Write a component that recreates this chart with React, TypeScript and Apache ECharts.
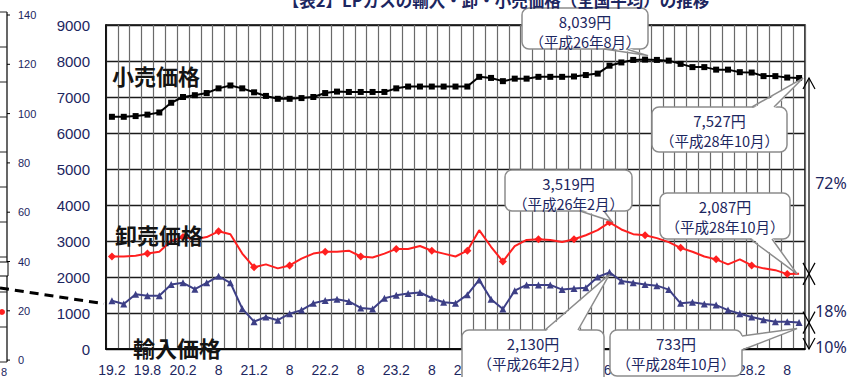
import React, { useEffect, useRef } from "react";
import * as echarts from "echarts";

// Bimonthly categories, H19.2 (Feb 2007) .. H28.10 (Oct 2016)
const categories = [
  "H19.2", "H19.4", "H19.6", "H19.8", "H19.10", "H19.12",
  "H20.2", "H20.4", "H20.6", "H20.8", "H20.10", "H20.12",
  "H21.2", "H21.4", "H21.6", "H21.8", "H21.10", "H21.12",
  "H22.2", "H22.4", "H22.6", "H22.8", "H22.10", "H22.12",
  "H23.2", "H23.4", "H23.6", "H23.8", "H23.10", "H23.12",
  "H24.2", "H24.4", "H24.6", "H24.8", "H24.10", "H24.12",
  "H25.2", "H25.4", "H25.6", "H25.8", "H25.10", "H25.12",
  "H26.2", "H26.4", "H26.6", "H26.8", "H26.10", "H26.12",
  "H27.2", "H27.4", "H27.6", "H27.8", "H27.10", "H27.12",
  "H28.2", "H28.4", "H28.6", "H28.8", "H28.10",
];

// Tick labels shown every 3rd category (every 6 months)
const xTickLabels = [
  "19.2", "19.8", "20.2", "8", "21.2", "8", "22.2", "8", "23.2", "8",
  "24.2", "8", "25.2", "8", "26.2", "8", "27.2", "8", "28.2", "8",
];

const yTicks = [0, 1000, 2000, 3000, 4000, 5000, 6000, 7000, 8000, 9000];
const leftAxisTicks = ["140", "120", "100", "80", "60", "40", "20", "0"];

// 小売価格 (retail)
const retail = [
  6450, 6450, 6470, 6510, 6570, 6840, 7000, 7050, 7110, 7240,
  7320, 7240, 7130, 7030, 6950, 6950, 6970, 7000, 7110, 7150,
  7140, 7140, 7140, 7140, 7240, 7290, 7290, 7290, 7290, 7290,
  7290, 7560, 7530, 7440, 7510, 7510, 7560, 7560, 7560, 7570,
  7610, 7650, 7870, 7960, 8030, 8039, 8030, 8010, 7920, 7830,
  7830, 7760, 7760, 7690, 7680, 7580, 7580, 7540, 7527,
];

// 卸売価格 (wholesale)
const wholesale = [
  2570, 2570, 2590, 2650, 2700, 3000, 3110, 3050, 3110, 3270,
  3190, 2650, 2270, 2350, 2240, 2320, 2510, 2650, 2700, 2700,
  2730, 2570, 2540, 2650, 2780, 2780, 2860, 2730, 2650, 2570,
  2730, 3300, 2840, 2430, 2860, 3030, 3050, 3030, 2970, 3050,
  3160, 3300, 3519, 3320, 3190, 3160, 3080, 2970, 2810, 2700,
  2570, 2490, 2350, 2490, 2320, 2240, 2190, 2080, 2087,
];

// 輸入価格 (import)
const importPrice = [
  1340, 1250, 1520, 1480, 1480, 1790, 1840, 1660, 1840, 2020,
  1840, 1120, 760, 890, 800, 980, 1080, 1270, 1350, 1380,
  1320, 1140, 1110, 1410, 1490, 1540, 1570, 1410, 1300, 1270,
  1510, 1920, 1380, 1110, 1620, 1780, 1780, 1780, 1650, 1680,
  1700, 2000, 2130, 1890, 1840, 1790, 1760, 1650, 1270, 1300,
  1250, 1220, 1080, 980, 890, 810, 760, 760, 733,
];

const seriesNames = ["小売価格", "卸売価格", "輸入価格"];
const shareLabels = ["72%", "18%", "10%"];
const titleText = "【表2】LPガスの輸入・卸・小売価格（全国平均）の推移";

const JP = "'Noto Sans CJK JP', 'Noto Sans', sans-serif";
const NAVY = "#1c2660";
const ARIAL = "'Liberation Sans', Arial, sans-serif";

export default function App() {
  const ref = useRef<HTMLDivElement>(null);

  useEffect(() => {
    const el = ref.current!;
    const chart = echarts.init(el, undefined, { renderer: "svg", width: 858, height: 377 });

    chart.setOption({
      animation: false,
      backgroundColor: "#ffffff",
      grid: {
        left: 106, right: 53, top: 25, bottom: 19,
        show: true, borderColor: "#000", borderWidth: 1.5,
        backgroundColor: "transparent",
      },
      xAxis: [
        {
          type: "category",
          data: categories,
          boundaryGap: true,
          axisLine: { show: true, lineStyle: { color: "#000", width: 1.5 } },
          axisTick: { show: false },
          splitLine: { show: false },
          axisLabel: {
            interval: 2,
            margin: 14,
            color: NAVY,
            fontSize: 14,
            fontFamily: ARIAL,
            formatter: (_v: string, idx: number) => xTickLabels[Math.round(idx / 3)] ?? "",
          },
        },
        {
          // helper axis: one vertical grid line at every category boundary
          type: "value",
          position: "bottom",
          min: 0,
          max: categories.length,
          interval: 1,
          axisLine: { show: false },
          axisTick: { show: false },
          axisLabel: { show: false },
          splitLine: { show: true, lineStyle: { color: "#6a6a6a", width: 1.2 } },
        },
      ],
      yAxis: {
        type: "value",
        min: yTicks[0],
        max: yTicks[yTicks.length - 1],
        interval: 1000,
        axisLine: { show: true, lineStyle: { color: "#000", width: 1.5 } },
        axisTick: { show: false },
        splitLine: { show: true, lineStyle: { color: "#1a1a1a", width: 1.3 } },
        axisLabel: {
          margin: 16,
          color: NAVY,
          fontSize: 15,
          fontFamily: ARIAL,
          formatter: (v: number) => String(v),
        },
      },
      series: [
        {
          name: seriesNames[0], type: "line", data: retail, xAxisIndex: 0,
          symbol: "rect", symbolSize: 6, showSymbol: true,
          lineStyle: { color: "#000", width: 2 },
          itemStyle: { color: "#000" },
          z: 5,
        },
        {
          name: seriesNames[1], type: "line", data: wholesale, xAxisIndex: 0,
          symbol: "diamond", symbolSize: 8,
          lineStyle: { color: "#ff1f1f", width: 2 },
          itemStyle: { color: "#ff1f1f" },
          z: 5,
        },
        {
          name: seriesNames[2], type: "line", data: importPrice, xAxisIndex: 0,
          symbol: "triangle", symbolSize: 7,
          lineStyle: { color: "#3d3f86", width: 2 },
          itemStyle: { color: "#3d3f86" },
          z: 5,
        },
      ],
    });

    const P = (s: number[], i: number) =>
      chart.convertToPixel({ xAxisIndex: 0, yAxisIndex: 0 }, [i, s[i]]) as number[];
    const yPx = (v: number) => (chart.convertToPixel({ xAxisIndex: 0, yAxisIndex: 0 }, [0, v]) as number[])[1];

    const last = categories.length - 1;
    const peakIdx = 45; // H26.8
    const febIdx = 42; // H26.2

    type Callout = {
      lines: string[];
      box: [number, number, number, number];
      side: "top" | "bottom" | "right";
      base: [number, number][];
      tip: number[];
    };

    const fmt = (v: number) => v.toLocaleString("en-US") + "円";

    const callouts: Callout[] = [
      { lines: [fmt(retail[peakIdx]), "（平成26年8月）"], box: [522, 8, 126, 41], side: "bottom",
        base: [[604, 49], [626, 49]], tip: [P(retail, peakIdx)[0] + 3, P(retail, peakIdx)[1] - 4] },
      { lines: [fmt(retail[last]), "（平成28年10月）"], box: [652, 107, 135, 45], side: "top",
        base: [[752, 107], [774, 107]], tip: [P(retail, last)[0] + 4, P(retail, last)[1]] },
      { lines: [fmt(wholesale[febIdx]), "（平成26年2月）"], box: [505, 170, 127, 41], side: "bottom",
        base: [[580, 211], [604, 211]], tip: [P(wholesale, febIdx)[0] + 2, P(wholesale, febIdx)[1] - 1] },
      { lines: [fmt(wholesale[last]), "（平成28年10月）"], box: [660, 193, 130, 46], side: "bottom",
        base: [[750, 239], [772, 239]], tip: [P(wholesale, last)[0] - 2, P(wholesale, last)[1]] },
      { lines: [fmt(importPrice[febIdx]), "（平成26年2月）"], box: [462, 330, 142, 56], side: "top",
        base: [[545, 330], [578, 330]], tip: [P(importPrice, febIdx)[0], P(importPrice, febIdx)[1] + 2] },
      { lines: [fmt(importPrice[last]), "（平成28年10月）"], box: [610, 330, 132, 46], side: "right",
        base: [[742, 336], [742, 350]], tip: [P(importPrice, last)[0] - 2, P(importPrice, last)[1] + 6] },
    ];

    const graphics: any[] = [];

    // Title (cut by the top edge)
    graphics.push({
      type: "text", x: 496, y: 0, z: 120,
      style: { text: titleText, fill: NAVY, fontSize: 16.5, fontWeight: "bold", fontFamily: JP,
        textAlign: "center", textVerticalAlign: "middle" },
    });

    // Series name labels
    const nameLabels: [string, number, number][] = [
      [seriesNames[0], 112, 75], [seriesNames[1], 115, 234], [seriesNames[2], 133, 347],
    ];
    nameLabels.forEach(([t, x, y]) =>
      graphics.push({
        type: "text", x, y, z: 110,
        style: { text: t, fill: "#141414", fontSize: 22, fontWeight: "bold", fontFamily: JP,
          textAlign: "left", textVerticalAlign: "middle" },
      })
    );

    // Callouts
    callouts.forEach((c) => {
      const [bx, by, bw, bh] = c.box;
      graphics.push({
        type: "rect", z: 100,
        shape: { x: bx, y: by, width: bw, height: bh, r: 7 },
        style: { fill: "#fff", stroke: "#8c8c8c", lineWidth: 1.5 },
      });
      const inward = (p: [number, number]) =>
        c.side === "top" ? [p[0], p[1] + 2] : c.side === "bottom" ? [p[0], p[1] - 2] : [p[0] - 2, p[1]];
      graphics.push({
        type: "polygon", z: 101,
        shape: { points: [inward(c.base[0]), c.tip, inward(c.base[1])] },
        style: { fill: "#fff", stroke: null },
      });
      graphics.push({
        type: "polyline", z: 102,
        shape: { points: [c.base[0], c.tip, c.base[1]] },
        style: { fill: null, stroke: "#8c8c8c", lineWidth: 1.5 },
      });
      const cx = bx + bw / 2;
      graphics.push({
        type: "text", x: cx, y: by + 13, z: 103,
        style: { text: c.lines[0], fill: NAVY, fontSize: 15, fontFamily: JP,
          textAlign: "center", textVerticalAlign: "middle" },
      });
      graphics.push({
        type: "text", x: cx, y: by + 33, z: 103,
        style: { text: c.lines[1], fill: NAVY, fontSize: 14.5, fontFamily: JP,
          textAlign: "center", textVerticalAlign: "middle" },
      });
    });

    // Right-side dimension arrows
    const ax = 809;
    const levels = [yPx(retail[last]), yPx(wholesale[last]), yPx(importPrice[last]), yPx(0)];
    graphics.push({
      type: "line", z: 90,
      shape: { x1: ax, y1: levels[0], x2: ax, y2: levels[3] },
      style: { stroke: "#000", lineWidth: 1.2 },
    });
    const arrowUp = (y: number) => ({
      type: "polyline", z: 90,
      shape: { points: [[ax - 6, y + 11], [ax, y], [ax + 6, y + 11]] },
      style: { fill: null, stroke: "#000", lineWidth: 1.2 },
    });
    const arrowDown = (y: number) => ({
      type: "polyline", z: 90,
      shape: { points: [[ax - 6, y - 11], [ax, y], [ax + 6, y - 11]] },
      style: { fill: null, stroke: "#000", lineWidth: 1.2 },
    });
    graphics.push(arrowUp(levels[0]));
    graphics.push(arrowDown(levels[1]), arrowUp(levels[1]));
    graphics.push(arrowDown(levels[2]), arrowUp(levels[2]));
    graphics.push(arrowDown(levels[3]));

    const shareY = [183, 311, 347];
    shareLabels.forEach((t, i) =>
      graphics.push({
        type: "text", x: 831, y: shareY[i], z: 95,
        style: { text: t, fill: NAVY, fontSize: 16, fontFamily: "'Noto Sans', sans-serif",
          textAlign: "center", textVerticalAlign: "middle" },
      })
    );

    // Left, partially cropped neighbouring chart
    graphics.push({
      type: "line", z: 20,
      shape: { x1: 7, y1: 12, x2: 7, y2: 362 },
      style: { stroke: "#000", lineWidth: 1.2 },
    });
    for (let k = 0; k <= 10; k++) {
      const y = 12 + 35 * k;
      graphics.push({
        type: "line", z: 20,
        shape: { x1: 0, y1: y, x2: 7, y2: y },
        style: { stroke: "#222", lineWidth: 1 },
      });
    }
    leftAxisTicks.forEach((t, i) => {
      const y = 15 + i * 49.3;
      graphics.push({
        type: "line", z: 20,
        shape: { x1: 7, y1: y, x2: 10, y2: y },
        style: { stroke: "#000", lineWidth: 1 },
      });
      graphics.push({
        type: "text", x: 18, y, z: 20,
        style: { text: t, fill: NAVY, fontSize: 11, fontFamily: ARIAL,
          textAlign: "left", textVerticalAlign: "middle" },
      });
    });
    graphics.push({
      type: "rect", z: 20,
      shape: { x: -2, y: 262, width: 10, height: 14 },
      style: { fill: "#fff", stroke: "#000", lineWidth: 1 },
    });
    graphics.push({
      type: "circle", z: 20,
      shape: { cx: 2, cy: 312, r: 3 },
      style: { fill: "#ff1f1f" },
    });
    graphics.push({
      type: "text", x: 4, y: 372, z: 20,
      style: { text: "8", fill: NAVY, fontSize: 11, fontFamily: ARIAL,
        textAlign: "center", textVerticalAlign: "middle" },
    });
    const firstImp = P(importPrice, 0);
    graphics.push({
      type: "line", z: 30,
      shape: { x1: 0, y1: 288, x2: firstImp[0] - 8, y2: firstImp[1] + 3 },
      style: { stroke: "#000", lineWidth: 3, lineDash: [9, 6] },
    });

    chart.setOption({ graphic: { elements: graphics } });

    return () => chart.dispose();
  }, []);

  return (
    <div
      ref={ref}
      style={{ position: "fixed", left: 0, top: 0, width: 858, height: 377, background: "#fff" }}
    />
  );
}
